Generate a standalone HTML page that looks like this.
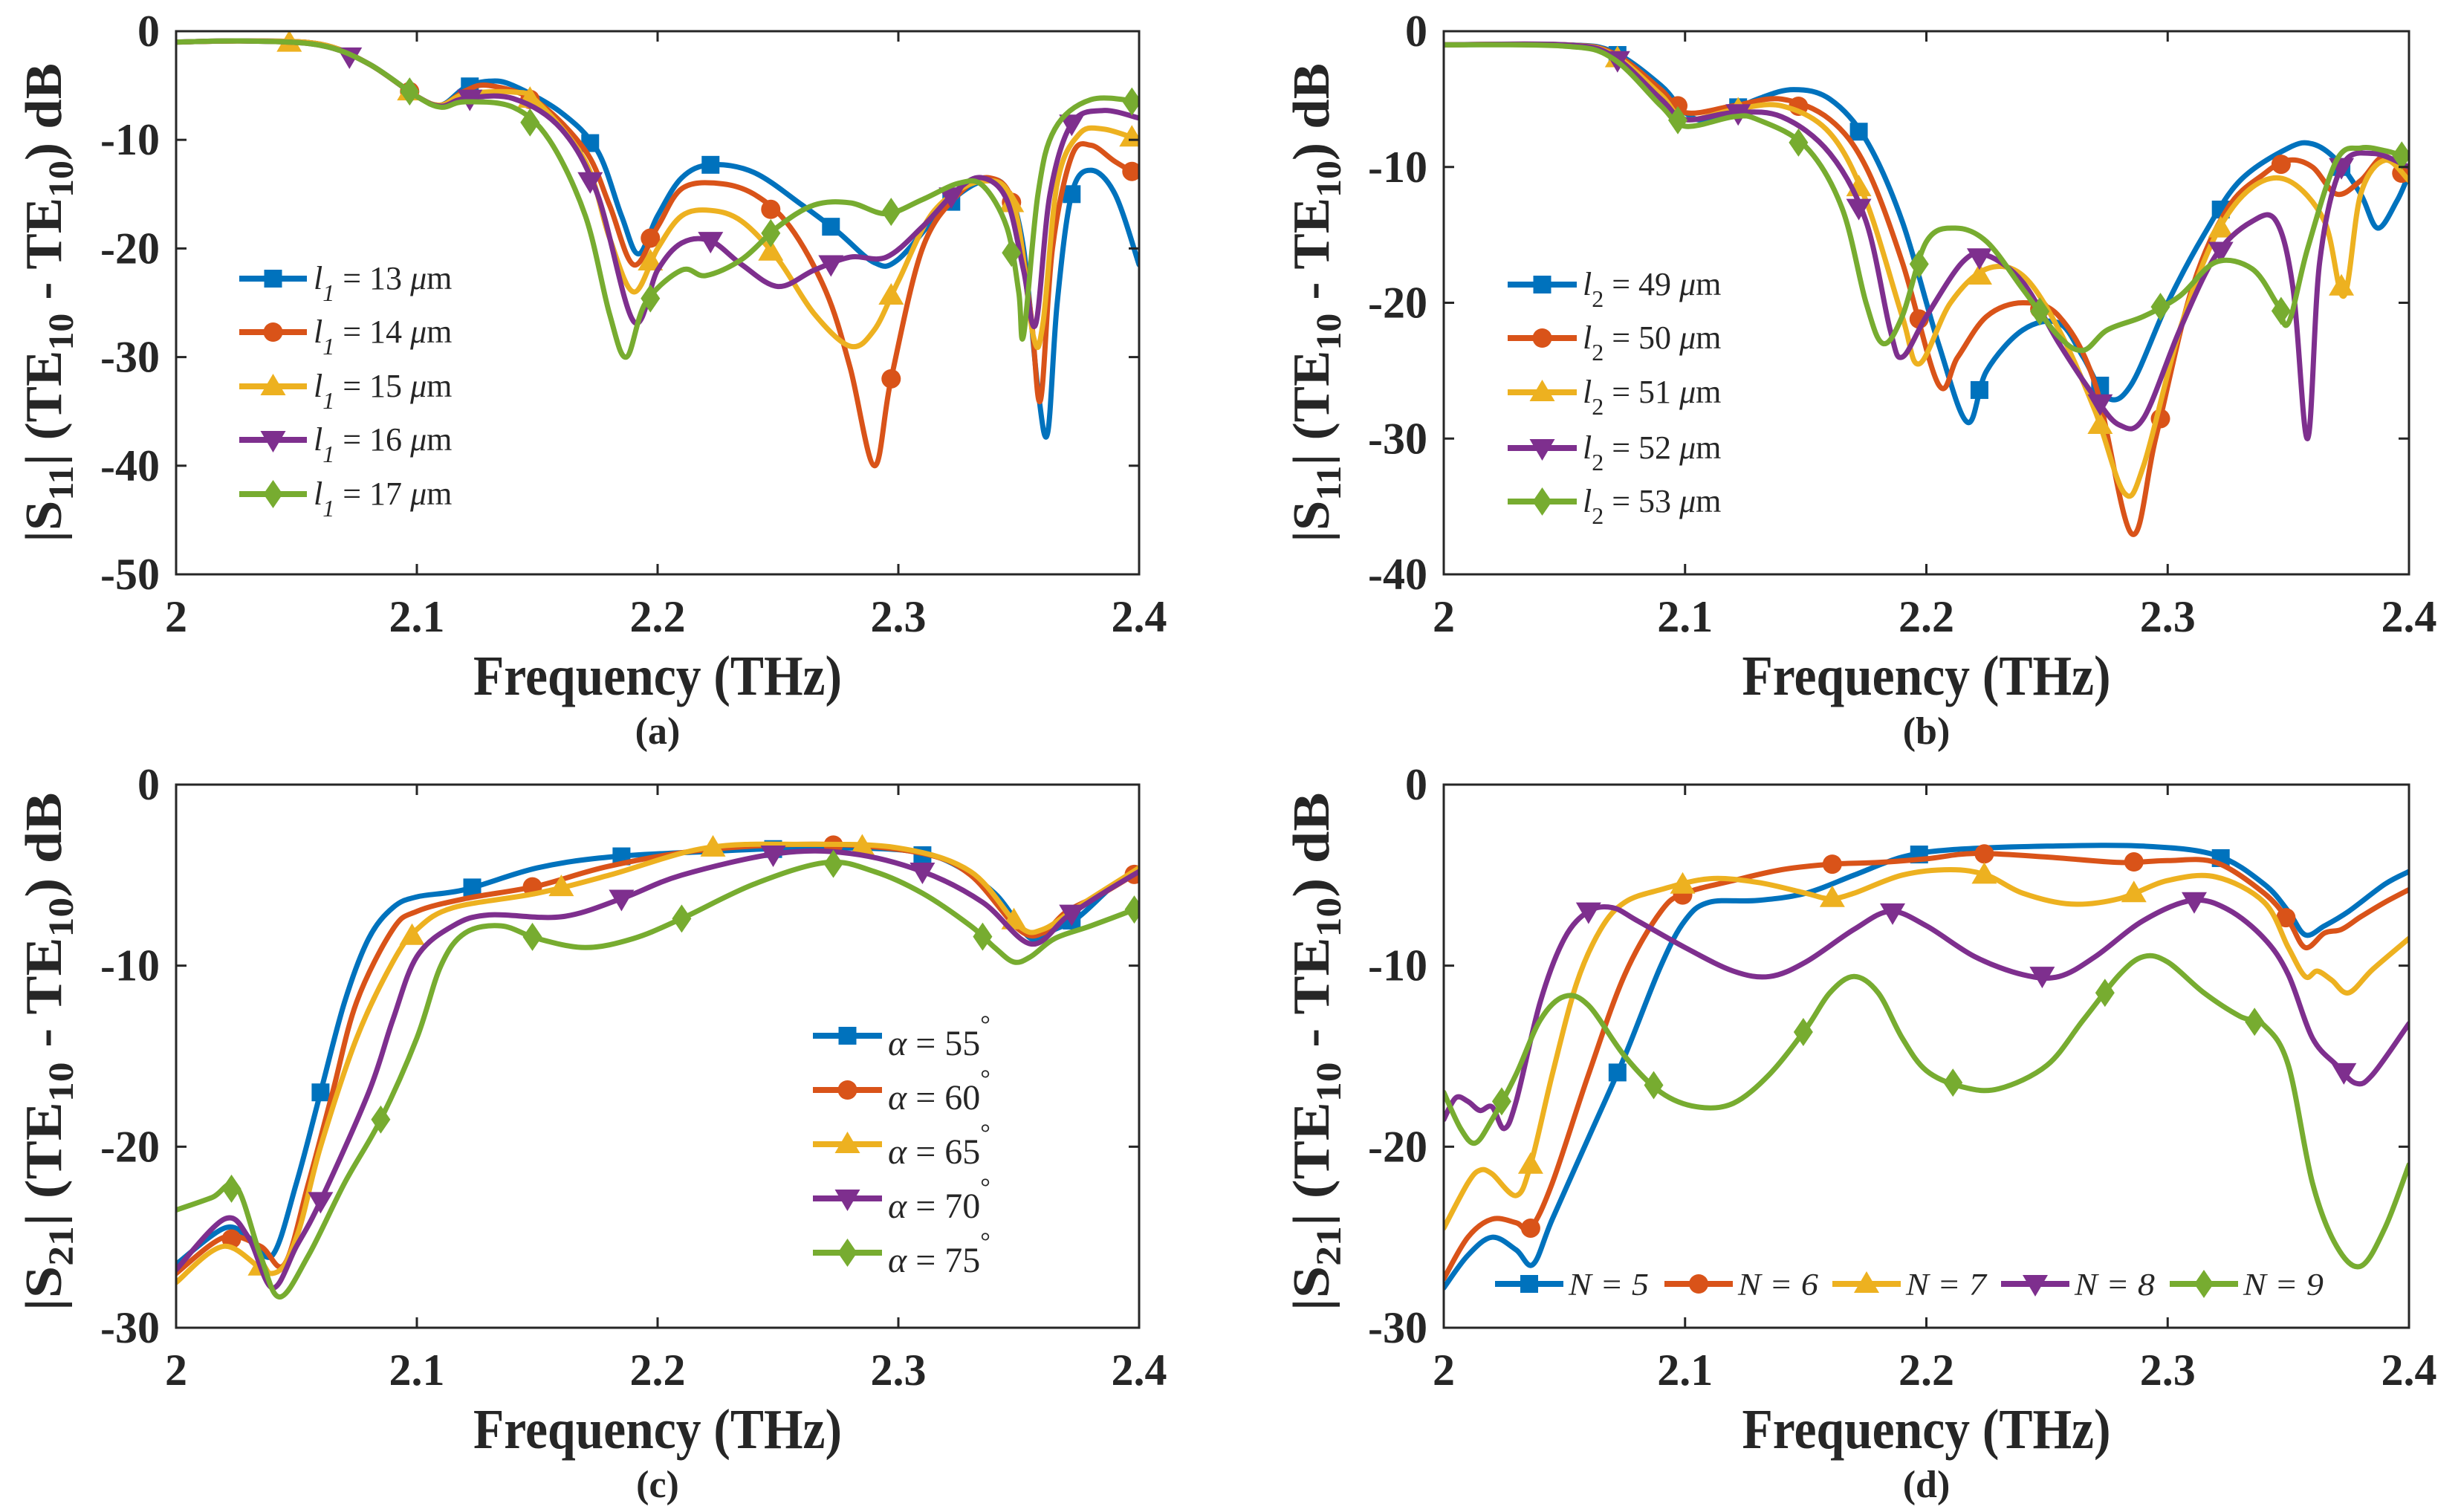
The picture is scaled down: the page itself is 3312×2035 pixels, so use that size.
<!DOCTYPE html>
<html><head><meta charset="utf-8"><style>
html,body{margin:0;padding:0;background:#fff;}
svg{display:block;}
text{font-family:"Liberation Serif",serif;fill:#262626;}
</style></head><body>
<svg id="fig" width="3312" height="2035" viewBox="0 0 3312 2035" xmlns="http://www.w3.org/2000/svg"></svg>
<script>
// ---------- Panel (a) data: |S11| vs l1 ----------
const a_l13 = [[2,-1],[2.03,-0.9],[2.06,-1.2],[2.08,-3],[2.1,-6],[2.11,-6.8],[2.12,-5.2],[2.13,-4.6],[2.14,-5],[2.16,-7.5],[2.175,-11],[2.185,-17],[2.192,-20.5],[2.2,-17],[2.21,-13.5],[2.222,-12.3],[2.24,-13],[2.26,-16],[2.275,-18.5],[2.29,-21.3],[2.3,-21],[2.32,-16],[2.335,-13.8],[2.345,-14.5],[2.352,-20],[2.358,-33],[2.362,-37],[2.366,-25],[2.372,-15],[2.38,-12.8],[2.39,-15],[2.4,-21.5]];
const a_l14 = [[2,-1],[2.03,-0.9],[2.06,-1.2],[2.08,-3],[2.1,-6],[2.11,-6.8],[2.12,-5.5],[2.13,-5],[2.15,-6.5],[2.17,-11],[2.18,-16],[2.19,-21.5],[2.2,-18],[2.21,-14.5],[2.225,-14],[2.24,-15],[2.255,-18],[2.27,-24],[2.28,-31],[2.29,-40],[2.297,-32],[2.31,-20],[2.325,-15],[2.338,-13.5],[2.348,-16],[2.355,-26],[2.359,-34],[2.364,-20],[2.372,-11.5],[2.38,-10.5],[2.39,-12],[2.4,-13.3]];
const a_l15 = [[2,-1],[2.03,-0.9],[2.06,-1.2],[2.08,-3],[2.1,-6],[2.11,-6.8],[2.12,-5.8],[2.14,-5.6],[2.15,-6.5],[2.17,-12],[2.18,-19],[2.19,-24],[2.2,-20],[2.21,-17],[2.222,-16.5],[2.235,-17.5],[2.25,-21],[2.265,-26],[2.28,-29],[2.29,-27.5],[2.3,-23],[2.315,-16.5],[2.335,-13.8],[2.348,-16],[2.356,-28],[2.36,-27],[2.366,-14],[2.375,-9.5],[2.385,-9],[2.4,-10]];
const a_l16 = [[2,-1],[2.03,-0.9],[2.06,-1.3],[2.08,-3],[2.1,-6],[2.11,-6.9],[2.12,-6.2],[2.14,-6.2],[2.16,-9],[2.175,-15],[2.19,-26.7],[2.2,-22],[2.21,-19.5],[2.222,-19.3],[2.235,-21.5],[2.25,-23.5],[2.265,-22],[2.28,-20.8],[2.295,-20.8],[2.31,-18],[2.325,-14.5],[2.335,-13.5],[2.345,-15.5],[2.352,-22],[2.357,-27],[2.363,-15],[2.372,-8.5],[2.385,-7.3],[2.4,-8]];
const a_l17 = [[2,-1],[2.03,-0.9],[2.06,-1.3],[2.08,-3],[2.1,-6],[2.11,-7],[2.12,-6.5],[2.14,-7],[2.155,-10],[2.17,-17],[2.18,-26],[2.187,-30],[2.195,-25],[2.21,-22],[2.22,-22.5],[2.235,-21],[2.25,-18],[2.265,-16],[2.28,-15.8],[2.295,-16.8],[2.31,-15.5],[2.325,-14],[2.335,-14.2],[2.345,-18],[2.35,-24],[2.352,-28],[2.358,-15],[2.365,-9],[2.38,-6.3],[2.4,-6.5]];
const a_mk13 = [2.122,2.172,2.222,2.272,2.322,2.372];
const a_mk14 = [2.097,2.147,2.197,2.247,2.297,2.347,2.397];
const a_mk15 = [2.047,2.097,2.147,2.197,2.247,2.297,2.347,2.397];
const a_mk16 = [2.072,2.122,2.172,2.222,2.272,2.322,2.372];
const a_mk17 = [2.097,2.147,2.197,2.247,2.297,2.347,2.397];
const a_labels = ["13","14","15","16","17"];

// ---------- Panel (b) data: |S11| vs l2 ----------
const b_l49 = [[2,-1],[2.05,-1],[2.07,-1.5],[2.09,-4],[2.1,-6],[2.11,-6.5],[2.13,-5],[2.145,-4.3],[2.16,-5],[2.175,-8],[2.19,-14],[2.205,-23],[2.217,-28.8],[2.225,-25],[2.24,-22],[2.255,-21.5],[2.265,-24],[2.275,-27],[2.285,-26],[2.3,-20],[2.315,-15],[2.33,-11],[2.35,-8.6],[2.36,-8.3],[2.37,-9.5],[2.38,-12],[2.387,-14.5],[2.395,-12.5],[2.4,-10.5]];
const b_l50 = [[2,-1],[2.05,-1],[2.07,-1.6],[2.09,-4.3],[2.1,-6],[2.12,-5.5],[2.14,-5],[2.16,-6.5],[2.175,-10],[2.19,-17],[2.205,-26],[2.213,-24],[2.225,-21],[2.24,-20],[2.255,-21],[2.27,-26],[2.285,-37],[2.295,-30],[2.31,-19],[2.325,-13],[2.34,-10.5],[2.35,-9.5],[2.36,-10],[2.37,-12],[2.38,-11],[2.39,-9.2],[2.4,-11]];
const b_l51 = [[2,-1],[2.05,-1],[2.07,-1.7],[2.09,-4.7],[2.1,-6.5],[2.12,-5.8],[2.14,-5.5],[2.16,-7.5],[2.175,-12.5],[2.19,-21],[2.197,-24.5],[2.21,-20],[2.225,-17.5],[2.24,-18],[2.255,-22],[2.27,-28],[2.282,-34],[2.29,-32],[2.305,-22],[2.32,-15],[2.335,-11.5],[2.35,-11],[2.365,-14],[2.373,-19.5],[2.38,-12],[2.39,-9.5],[2.4,-11]];
const b_l52 = [[2,-1],[2.05,-1],[2.07,-1.8],[2.09,-5],[2.1,-6.5],[2.12,-6],[2.14,-6.3],[2.16,-9],[2.175,-14],[2.185,-22],[2.19,-24],[2.2,-21],[2.215,-17],[2.225,-16.5],[2.24,-18.5],[2.255,-23],[2.27,-27],[2.28,-29],[2.29,-28.5],[2.305,-22],[2.32,-16.5],[2.335,-14],[2.345,-14],[2.352,-19],[2.358,-30],[2.363,-17],[2.372,-10],[2.385,-9],[2.4,-10]];
const b_l53 = [[2,-1],[2.05,-1.1],[2.07,-2],[2.09,-5.5],[2.1,-7],[2.12,-6.3],[2.13,-6.5],[2.15,-8.5],[2.165,-13],[2.175,-20],[2.182,-23],[2.19,-21],[2.2,-15.5],[2.212,-14.5],[2.225,-15.5],[2.24,-19],[2.255,-22.5],[2.265,-23.5],[2.275,-22],[2.29,-21],[2.305,-19.5],[2.32,-17],[2.335,-17.5],[2.345,-20],[2.35,-21.5],[2.358,-16],[2.37,-9.5],[2.38,-8.6],[2.39,-8.8],[2.4,-9.3]];
const b_mk49 = [2.072,2.122,2.172,2.222,2.272,2.322,2.372];
const b_mk50 = [2.097,2.147,2.197,2.247,2.297,2.347,2.397];
const b_mk51 = [2.072,2.122,2.172,2.222,2.272,2.322,2.372];
const b_mk52 = [2.072,2.122,2.172,2.222,2.272,2.322,2.372];
const b_mk53 = [2.097,2.147,2.197,2.247,2.297,2.347,2.397];
const b_labels = ["49","50","51","52","53"];

// ---------- Panel (c) data: |S21| vs alpha ----------
const c_a55 = [[2,-26.5],[2.02,-24.5],[2.03,-25],[2.04,-26],[2.05,-22],[2.06,-17],[2.07,-12],[2.08,-8.5],[2.09,-6.8],[2.1,-6.2],[2.12,-5.8],[2.15,-4.6],[2.18,-4],[2.22,-3.7],[2.26,-3.5],[2.3,-3.6],[2.32,-4.2],[2.34,-6],[2.355,-8.5],[2.365,-8],[2.375,-7.3],[2.39,-5.5],[2.4,-4.8]];
const c_a60 = [[2,-27],[2.02,-25],[2.035,-25.5],[2.045,-26.5],[2.055,-22],[2.065,-17],[2.075,-12],[2.09,-8],[2.1,-7],[2.12,-6.3],[2.15,-5.6],[2.18,-4.5],[2.22,-3.6],[2.27,-3.3],[2.31,-3.8],[2.33,-5],[2.35,-8],[2.36,-8.2],[2.37,-7],[2.385,-6],[2.4,-4.8]];
const c_a65 = [[2,-27.5],[2.02,-25.5],[2.04,-27],[2.05,-25],[2.06,-20],[2.075,-14],[2.09,-9.8],[2.1,-8],[2.115,-6.8],[2.15,-6],[2.18,-5],[2.22,-3.5],[2.26,-3.3],[2.3,-3.5],[2.33,-4.8],[2.35,-7.8],[2.36,-8],[2.375,-6.7],[2.4,-4.6]];
const c_a70 = [[2,-26.8],[2.02,-24],[2.03,-25],[2.04,-27.8],[2.05,-25.5],[2.06,-23],[2.08,-17],[2.09,-13],[2.1,-9.5],[2.115,-7.8],[2.13,-7.2],[2.16,-7.3],[2.185,-6.3],[2.21,-5],[2.25,-3.8],[2.28,-3.8],[2.31,-4.8],[2.335,-6.5],[2.355,-8.8],[2.37,-7.3],[2.385,-6],[2.4,-4.8]];
const c_a75 = [[2,-23.5],[2.015,-22.8],[2.025,-22.2],[2.035,-26],[2.043,-28.3],[2.055,-26],[2.07,-22],[2.085,-18.5],[2.1,-14],[2.11,-10],[2.12,-8.2],[2.135,-7.8],[2.15,-8.5],[2.17,-9],[2.19,-8.5],[2.21,-7.4],[2.24,-5.5],[2.27,-4.3],[2.29,-4.8],[2.31,-6],[2.33,-7.8],[2.34,-9],[2.348,-9.8],[2.355,-9.5],[2.365,-8.5],[2.38,-7.8],[2.4,-6.8]];
const c_mk55 = [2.06,2.123,2.185,2.248,2.31,2.372];
const c_mk60 = [2.023,2.148,2.273,2.398];
const c_mk65 = [2.035,2.098,2.16,2.223,2.285,2.348];
const c_mk70 = [2.06,2.185,2.248,2.31,2.372];
const c_mk75 = [2.023,2.085,2.148,2.21,2.273,2.335,2.398];
const c_labels = ["55","60","65","70","75"];

// ---------- Panel (d) data: |S21| vs N ----------
const d_n5 = [[2,-27.8],[2.01,-26],[2.02,-25],[2.03,-25.7],[2.037,-26.5],[2.045,-24],[2.06,-19.5],[2.075,-15],[2.09,-10],[2.1,-7.5],[2.11,-6.5],[2.13,-6.4],[2.15,-6],[2.17,-5],[2.19,-4],[2.21,-3.6],[2.25,-3.4],[2.29,-3.4],[2.32,-3.9],[2.34,-5.5],[2.35,-7],[2.357,-8.3],[2.365,-7.8],[2.375,-7],[2.39,-5.5],[2.4,-4.8]];
const d_n6 = [[2,-27.3],[2.01,-25],[2.02,-24],[2.03,-24.2],[2.036,-24.5],[2.045,-22],[2.06,-16],[2.075,-10.5],[2.09,-7],[2.1,-6],[2.12,-5.3],[2.14,-4.7],[2.16,-4.4],[2.18,-4.3],[2.2,-4.1],[2.22,-3.8],[2.25,-4],[2.28,-4.3],[2.3,-4.2],[2.32,-4.3],[2.34,-6],[2.35,-7.5],[2.357,-9],[2.365,-8.2],[2.372,-8],[2.38,-7.3],[2.39,-6.5],[2.4,-5.8]];
const d_n7 = [[2,-24.5],[2.01,-22],[2.015,-21.3],[2.02,-21.5],[2.03,-22.7],[2.036,-21],[2.045,-16],[2.055,-11],[2.065,-8],[2.075,-6.5],[2.09,-5.8],[2.11,-5.2],[2.13,-5.4],[2.15,-6],[2.16,-6.3],[2.17,-6],[2.19,-5],[2.21,-4.7],[2.225,-5],[2.24,-6],[2.26,-6.6],[2.28,-6.3],[2.3,-5.3],[2.32,-5.1],[2.34,-6.5],[2.35,-9],[2.357,-10.6],[2.362,-10.3],[2.368,-10.8],[2.375,-11.5],[2.385,-10.2],[2.4,-8.5]];
const d_n8 = [[2,-18.5],[2.005,-17.3],[2.01,-17.5],[2.015,-18],[2.02,-17.8],[2.025,-19],[2.03,-17.5],[2.04,-12],[2.05,-8.5],[2.06,-7],[2.07,-6.8],[2.08,-7.5],[2.1,-9],[2.12,-10.3],[2.135,-10.6],[2.15,-9.8],[2.17,-8],[2.185,-7],[2.2,-7.8],[2.22,-9.5],[2.24,-10.5],[2.255,-10.6],[2.27,-9.5],[2.29,-7.5],[2.31,-6.4],[2.325,-6.9],[2.34,-8.5],[2.35,-10.5],[2.36,-14],[2.37,-15.5],[2.378,-16.5],[2.385,-16],[2.4,-13.2]];
const d_n9 = [[2,-17],[2.007,-19],[2.013,-19.8],[2.02,-18.5],[2.03,-16],[2.04,-13],[2.05,-11.7],[2.06,-12.2],[2.075,-15],[2.09,-17],[2.105,-17.8],[2.12,-17.6],[2.135,-16],[2.15,-13.5],[2.16,-11.5],[2.17,-10.6],[2.18,-11.5],[2.19,-14],[2.2,-15.8],[2.215,-16.7],[2.23,-16.8],[2.25,-15.5],[2.265,-13],[2.28,-10.5],[2.29,-9.5],[2.3,-9.8],[2.315,-11.5],[2.33,-12.8],[2.34,-13.3],[2.35,-15.5],[2.36,-22],[2.37,-25.5],[2.38,-26.6],[2.39,-24.5],[2.4,-21]];
const d_mk5 = [2.072,2.197,2.322];
const d_mk6 = [2.036,2.099,2.161,2.224,2.286,2.349];
const d_mk7 = [2.036,2.099,2.161,2.224,2.286];
const d_mk8 = [2.06,2.186,2.248,2.311,2.373];
const d_mk9 = [2.024,2.087,2.149,2.211,2.274,2.336];
const d_labels = ["5","6","7","8","9"];

const xTicks = [2,2.1,2.2,2.3,2.4];
const xTickLabels = ["2","2.1","2.2","2.3","2.4"];
const yTicksA = [0,-10,-20,-30,-40,-50];
const yTicksB = [0,-10,-20,-30,-40];
const yTicksCD = [0,-10,-20,-30];

const COLORS = ["#0072BD","#D95319","#EDB120","#7E2F8E","#77AC30"];
const SHAPES = ["square","circle","up","down","diamond"];
const NS = "http://www.w3.org/2000/svg";
const svg = document.getElementById('fig');

function mk(tag, attrs, parent){
  const e = document.createElementNS(NS, tag);
  for (const k in attrs) e.setAttribute(k, attrs[k]);
  (parent||svg).appendChild(e);
  return e;
}
function interp(pts, x){
  for (let i=0;i<pts.length-1;i++){
    if (x>=pts[i][0] && x<=pts[i+1][0]){
      const t=(x-pts[i][0])/(pts[i+1][0]-pts[i][0]);
      return pts[i][1]+t*(pts[i+1][1]-pts[i][1]);
    }
  }
  return pts[pts.length-1][1];
}
function smoothPath(P){
  let d = "M"+P[0][0].toFixed(1)+","+P[0][1].toFixed(1);
  for (let i=0;i<P.length-1;i++){
    const p0=P[i-1]||P[i], p1=P[i], p2=P[i+1], p3=P[i+2]||P[i+1];
    const c1=[p1[0]+(p2[0]-p0[0])/6, p1[1]+(p2[1]-p0[1])/6];
    const c2=[p2[0]-(p3[0]-p1[0])/6, p2[1]-(p3[1]-p1[1])/6];
    d += " C"+c1[0].toFixed(1)+","+c1[1].toFixed(1)+" "+c2[0].toFixed(1)+","+c2[1].toFixed(1)+" "+p2[0].toFixed(1)+","+p2[1].toFixed(1);
  }
  return d;
}
function marker(g, shape, cx, cy, color, s){
  s = s||1;
  let e;
  if (shape==="square") e = mk('rect',{x:cx-12*s,y:cy-12*s,width:24*s,height:24*s,fill:color},g);
  else if (shape==="circle") e = mk('circle',{cx:cx,cy:cy,r:13*s,fill:color},g);
  else if (shape==="up") e = mk('polygon',{points:`${cx},${cy-17*s} ${cx+17*s},${cy+12*s} ${cx-17*s},${cy+12*s}`,fill:color},g);
  else if (shape==="down") e = mk('polygon',{points:`${cx-17*s},${cy-12*s} ${cx+17*s},${cy-12*s} ${cx},${cy+17*s}`,fill:color},g);
  else e = mk('polygon',{points:`${cx},${cy-19*s} ${cx+13*s},${cy} ${cx},${cy+19*s} ${cx-13*s},${cy}`,fill:color},g);
  
  
  return e;
}

function drawPanel(cfg){
  const g = mk('g',{});
  
  
  const sx = v => cfg.x0 + (v-2)/(0.4)*(cfg.x1-cfg.x0);
  const sy = v => cfg.yT + (0-v)/(0-cfg.ymin)*(cfg.yB-cfg.yT);
  const clip = 'clip-'+cfg.name;
  const cp = mk('clipPath',{id:clip},g);
  mk('rect',{x:cfg.x0,y:cfg.yT,width:cfg.x1-cfg.x0,height:cfg.yB-cfg.yT},cp);
  const plot = mk('g',{'clip-path':`url(#${clip})`},g);
  
  
  cfg.series.forEach((s,i)=>{
    const sg = mk('g',{},plot);
    
    
    const P = s.map(p=>[sx(p[0]),sy(p[1])]);
    const path = mk('path',{d:smoothPath(P),fill:'none',stroke:COLORS[i],'stroke-width':7,'stroke-linejoin':'round','stroke-linecap':'round'},sg);
    
    
    cfg.markers[i].forEach(mx=>{ marker(sg, SHAPES[i], sx(mx), sy(interp(s,mx)), COLORS[i]); });
  });
  const box = mk('rect',{x:cfg.x0,y:cfg.yT,width:cfg.x1-cfg.x0,height:cfg.yB-cfg.yT,fill:'none',stroke:'#262626','stroke-width':3},g);
  
  
  xTicks.forEach((t,i)=>{
    const x = sx(t);
    mk('line',{x1:x,y1:cfg.yB,x2:x,y2:cfg.yB-14,stroke:'#262626','stroke-width':3},g);
    mk('line',{x1:x,y1:cfg.yT,x2:x,y2:cfg.yT+14,stroke:'#262626','stroke-width':3},g);
    const tl = mk('text',{x:x,y:cfg.yB+77,'text-anchor':'middle','font-size':60,'font-weight':'bold'},g);
    tl.textContent = xTickLabels[i];
    
    
  });
  cfg.yTicks.forEach(t=>{
    const y = sy(t);
    mk('line',{x1:cfg.x0,y1:y,x2:cfg.x0+14,y2:y,stroke:'#262626','stroke-width':3},g);
    mk('line',{x1:cfg.x1,y1:y,x2:cfg.x1-14,y2:y,stroke:'#262626','stroke-width':3},g);
    const tl = mk('text',{x:cfg.x0-22,y:y+20,'text-anchor':'end','font-size':60,'font-weight':'bold'},g);
    tl.textContent = String(t);
    
    
  });
  const xl = mk('text',{x:(cfg.x0+cfg.x1)/2,y:cfg.yB+162,'text-anchor':'middle','font-size':76,'font-weight':'bold',textLength:496,lengthAdjust:'spacingAndGlyphs'},g);
  xl.textContent = 'Frequency (THz)';
  
  
  const pl = mk('text',{x:(cfg.x0+cfg.x1)/2,y:cfg.yB+228,'text-anchor':'middle','font-size':52,'font-weight':'bold'},g);
  pl.textContent = cfg.letter;
  
  
  const yc = (cfg.yT+cfg.yB)/2 + cfg.ylOff;
  const yl = mk('text',{x:0,y:0,transform:`translate(${cfg.x0-155},${yc}) rotate(-90)`,'text-anchor':'middle','font-size':70,'font-weight':'bold',textLength:cfg.ylLen,lengthAdjust:'spacingAndGlyphs'},g);
  
  
  const parts = [["|S",0],[cfg.sub,1],["| (TE",0],["10",1],[" - TE",0],["10",1],[") dB",0]];
  parts.forEach(p=>{
    const ts = mk('tspan',{},yl);
    if (p[1]) { ts.setAttribute('font-size','48'); ts.setAttribute('dy','16'); }
    else { ts.setAttribute('dy', '0'); }
    ts.textContent = p[0];
  });
  const tss = yl.querySelectorAll('tspan');
  for (let i=1;i<tss.length;i++){ if (parts[i][1]===0 && parts[i-1][1]===1) tss[i].setAttribute('dy','-16'); }
  return {g, sx, sy};
}

function legendVertical(g, cfg){
  const lg = mk('g',{},g);
  
  
  cfg.rows.forEach((ry,i)=>{
    const e = mk('g',{},lg);
    
    
    mk('line',{x1:cfg.lx0,y1:ry,x2:cfg.lx1,y2:ry,stroke:COLORS[i],'stroke-width':8},e);
    marker(e, SHAPES[i], (cfg.lx0+cfg.lx1)/2, ry, COLORS[i]);
    const t = mk('text',{x:cfg.tx,y:ry+cfg.tdy,'font-size':cfg.fs||44},e);
    cfg.fill(t, i);
  });
}
function addT(t, txt, attrs){ const s = mk('tspan',attrs||{},t); s.textContent = txt; return s; }

const A = drawPanel({name:'panel-a',letter:'(a)',x0:237,x1:1533,yT:42,yB:773,ymin:-50,yTicks:yTicksA,
  series:[a_l13,a_l14,a_l15,a_l16,a_l17],markers:[a_mk13,a_mk14,a_mk15,a_mk16,a_mk17],labels:a_labels,sub:'11',ylOff:0,ylLen:645});
legendVertical(A.g,{rows:[375,447,520,592,665],lx0:322,lx1:413,tx:422,tdy:14,fill:(t,i)=>{
  addT(t,'l',{'font-style':'italic'}); addT(t,'1',{'font-style':'italic','font-size':32,dy:16});
  addT(t,' = '+a_labels[i]+' ',{dy:-16}); addT(t,'μ',{'font-style':'italic'}); addT(t,'m');}});

const B = drawPanel({name:'panel-b',letter:'(b)',x0:1943,x1:3242,yT:42,yB:773,ymin:-40,yTicks:yTicksB,
  series:[b_l49,b_l50,b_l51,b_l52,b_l53],markers:[b_mk49,b_mk50,b_mk51,b_mk52,b_mk53],labels:b_labels,sub:'11',ylOff:0,ylLen:645});
legendVertical(B.g,{rows:[383,455,528,603,675],lx0:2029,lx1:2122,tx:2130,tdy:14,fill:(t,i)=>{
  addT(t,'l',{'font-style':'italic'}); addT(t,'2',{'font-size':32,dy:16});
  addT(t,' = '+b_labels[i]+' ',{dy:-16}); addT(t,'μ',{'font-style':'italic'}); addT(t,'m');}});

const C = drawPanel({name:'panel-c',letter:'(c)',x0:237,x1:1533,yT:1056,yB:1787,ymin:-30,yTicks:yTicksCD,
  series:[c_a55,c_a60,c_a65,c_a70,c_a75],markers:[c_mk55,c_mk60,c_mk65,c_mk70,c_mk75],labels:c_labels,sub:'21',ylOff:-6,ylLen:698});
legendVertical(C.g,{rows:[1394,1467,1540,1613,1686],lx0:1094,lx1:1187,tx:1195,tdy:26,fs:48,fill:(t,i)=>{
  addT(t,'α',{'font-style':'italic'}); addT(t,(i<2?' = ':'  = ')+c_labels[i]); addT(t,'°',{'font-size':34,dy:-30});}});

const D = drawPanel({name:'panel-d',letter:'(d)',x0:1943,x1:3242,yT:1056,yB:1787,ymin:-30,yTicks:yTicksCD,
  series:[d_n5,d_n6,d_n7,d_n8,d_n9],markers:[d_mk5,d_mk6,d_mk7,d_mk8,d_mk9],labels:d_labels,sub:'21',ylOff:-6,ylLen:698});
(function(){
  const lg = mk('g',{},D.g);
  
  
  const lx = [2012,2240,2466,2693,2920];
  const ly = 1728;
  lx.forEach((x,i)=>{
    const e = mk('g',{},lg);
    
    
    mk('line',{x1:x,y1:ly,x2:x+92,y2:ly,stroke:COLORS[i],'stroke-width':8},e);
    marker(e, SHAPES[i], x+46, ly, COLORS[i]);
    const t = mk('text',{x:x+99,y:ly+15,'font-size':42,'font-style':'italic',textLength:108,lengthAdjust:'spacingAndGlyphs'},e);
    t.textContent = 'N = '+d_labels[i];
  });
})();
</script>
</body></html>
